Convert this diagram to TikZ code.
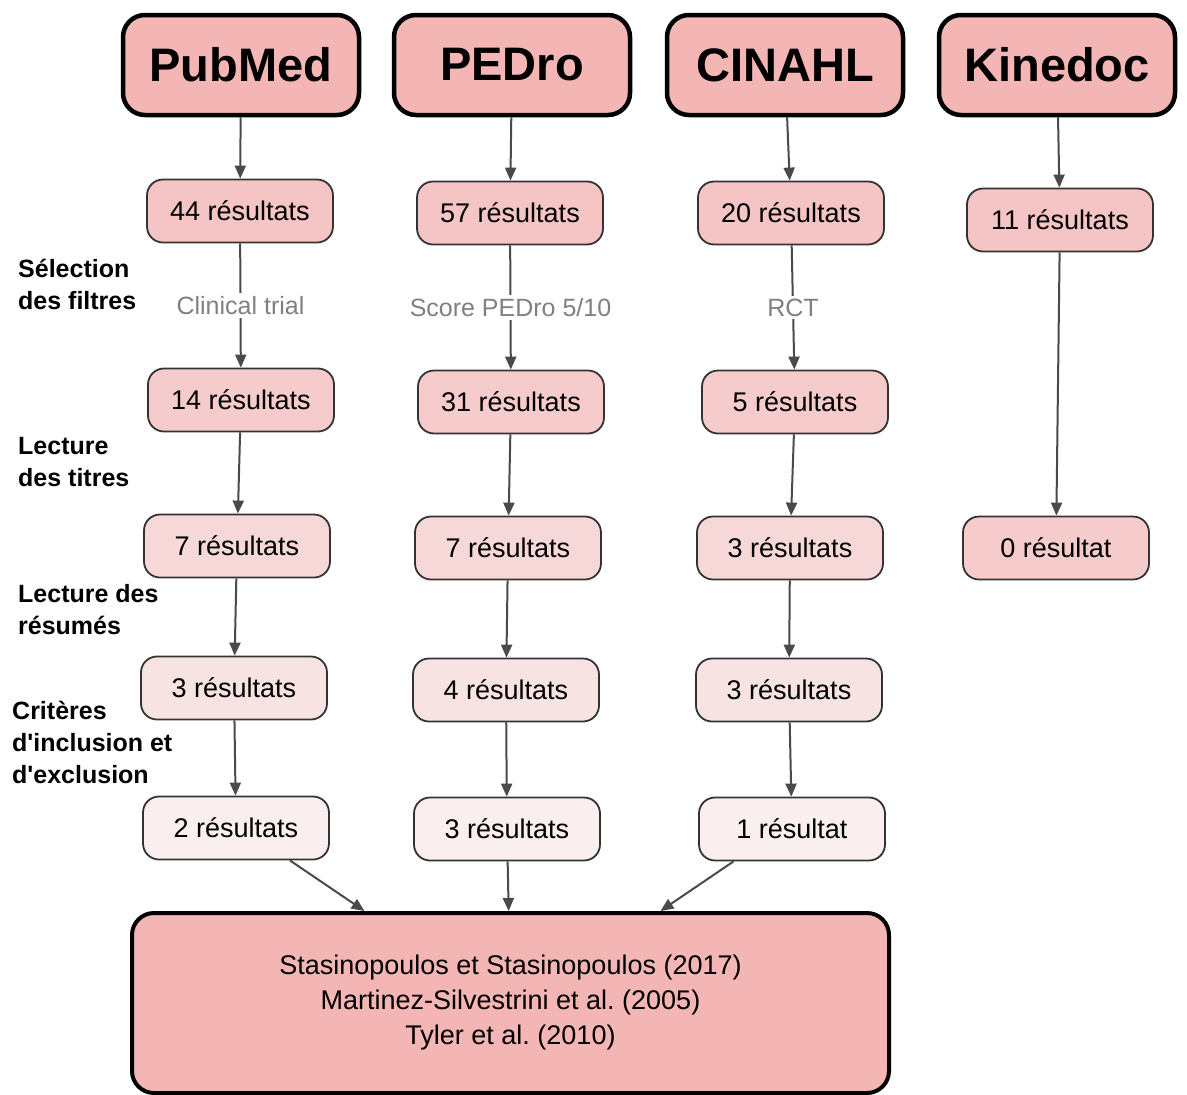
\documentclass[tikz,border=0pt]{standalone}
\usepackage{fontspec}
\setmainfont{Liberation Sans}
\usetikzlibrary{arrows, arrows.meta}
\usetikzlibrary{calc}
\definecolor{hdrpink}{HTML}{F4B5B5}
\definecolor{rowa}{HTML}{F5C4C4}
\definecolor{rowb}{HTML}{F6CBCB}
\definecolor{rowc}{HTML}{F7D8D8}
\definecolor{rowd}{HTML}{F8E3E3}
\definecolor{rowe}{HTML}{FAEEEE}
\definecolor{arrgray}{HTML}{4A4A4A}
\definecolor{lblgray}{HTML}{808080}
\frenchspacing

\begin{document}
\begin{tikzpicture}[x=1pt, y=-1pt,
    base/.style={draw, rounded corners=22pt, minimum width=236pt, minimum height=100pt, line width=4.5pt, fill=hdrpink, font=\fontsize{47}{50}\selectfont\bfseries},
    res/.style={draw=black!80, rounded corners=16pt, minimum width=186pt, minimum height=63pt, line width=1.8pt, font=\fontsize{27}{30}\selectfont},
    arr/.style={draw=arrgray, line width=2pt, -{Triangle[length=13pt, width=11pt]}},
    filt/.style={fill=white, text=lblgray, inner sep=3pt, font=\fontsize{25}{28}\selectfont},
    step label/.style={anchor=north west, align=left, inner sep=0pt, font=\fontsize{25}{32}\selectfont\bfseries}]
      \useasboundingbox (0,0) rectangle (1187,1095);

      % databases
      \node[base] (pubmed) at (241, 65) {PubMed};
      \node[base] (pedro) at (512, 65) {PEDro};
      \node[base] (cinahl) at (785, 65) {CINAHL};
      \node[base] (kinedoc) at (1057, 65) {Kinedoc};

      % PubMed column
      \node[res, fill=rowa] (pm1) at (240, 211) {44 résultats};
      \node[res, fill=rowb] (pm2) at (241, 400) {14 résultats};
      \node[res, fill=rowc] (pm3) at (237, 546) {7 résultats};
      \node[res, fill=rowd] (pm4) at (234, 688) {3 résultats};
      \node[res, fill=rowe] (pm5) at (236, 828) {2 résultats};

      % PEDro column
      \node[res, fill=rowa] (pe1) at (510, 213) {57 résultats};
      \node[res, fill=rowb] (pe2) at (511, 402) {31 résultats};
      \node[res, fill=rowc] (pe3) at (508, 548) {7 résultats};
      \node[res, fill=rowd] (pe4) at (506, 690) {4 résultats};
      \node[res, fill=rowe] (pe5) at (507, 829) {3 résultats};

      % CINAHL column
      \node[res, fill=rowa] (ci1) at (791, 213) {20 résultats};
      \node[res, fill=rowb] (ci2) at (795, 402) {5 résultats};
      \node[res, fill=rowc] (ci3) at (790, 548) {3 résultats};
      \node[res, fill=rowd] (ci4) at (789, 690) {3 résultats};
      \node[res, fill=rowe] (ci5) at (792, 829) {1 résultat};

      % Kinedoc column
      \node[res, fill=rowa] (ki1) at (1060, 220) {11 résultats};
      \node[res, fill=rowb] (ki3) at (1056, 548) {0 résultat};

      % final selection
      \node[draw, rounded corners=22pt, line width=4pt, fill=hdrpink, minimum width=757pt, minimum height=180pt, align=center, font=\fontsize{27}{35}\selectfont] (final) at (510.5, 1003) {Stasinopoulos et Stasinopoulos (2017)\\Martinez-Silvestrini et al. (2005)\\Tyler et al. (2010)};

      % step labels
      \node[step label] (sel) at (18, 259) {Sélection\\des filtres};
      \node[step label] (tit) at (18, 437) {Lecture\\des titres};
      \node[step label] (abs) at (18, 584) {Lecture des\\résumés};
      \node[step label] (crit) at (12, 701) {Critères\\d\textquotesingle inclusion et\\d\textquotesingle exclusion};

      \draw[arr] (pubmed) -- (pm1);
      \draw[arr] (pm1) -- node[filt] {Clinical trial} (pm2);
      \draw[arr] (pm2) -- (pm3);
      \draw[arr] (pm3) -- (pm4);
      \draw[arr] (pm4) -- (pm5);

      \draw[arr] (pedro) -- (pe1);
      \draw[arr] (pe1) -- node[filt] {Score PEDro 5/10} (pe2);
      \draw[arr] (pe2) -- (pe3);
      \draw[arr] (pe3) -- (pe4);
      \draw[arr] (pe4) -- (pe5);

      \draw[arr] (cinahl) -- (ci1);
      \draw[arr] (ci1) -- node[filt] {RCT} (ci2);
      \draw[arr] (ci2) -- (ci3);
      \draw[arr] (ci3) -- (ci4);
      \draw[arr] (ci4) -- (ci5);

      \draw[arr] (kinedoc) -- (ki1);
      \draw[arr] (ki1) -- (ki3);

      \draw[arr] (pm5.-31) -- ([xshift=-146pt]final.north);
      \draw[arr] (pe5) -- (final);
      \draw[arr] (ci5.-151) -- ([xshift=150pt]final.north);
    \end{tikzpicture}
\end{document}
